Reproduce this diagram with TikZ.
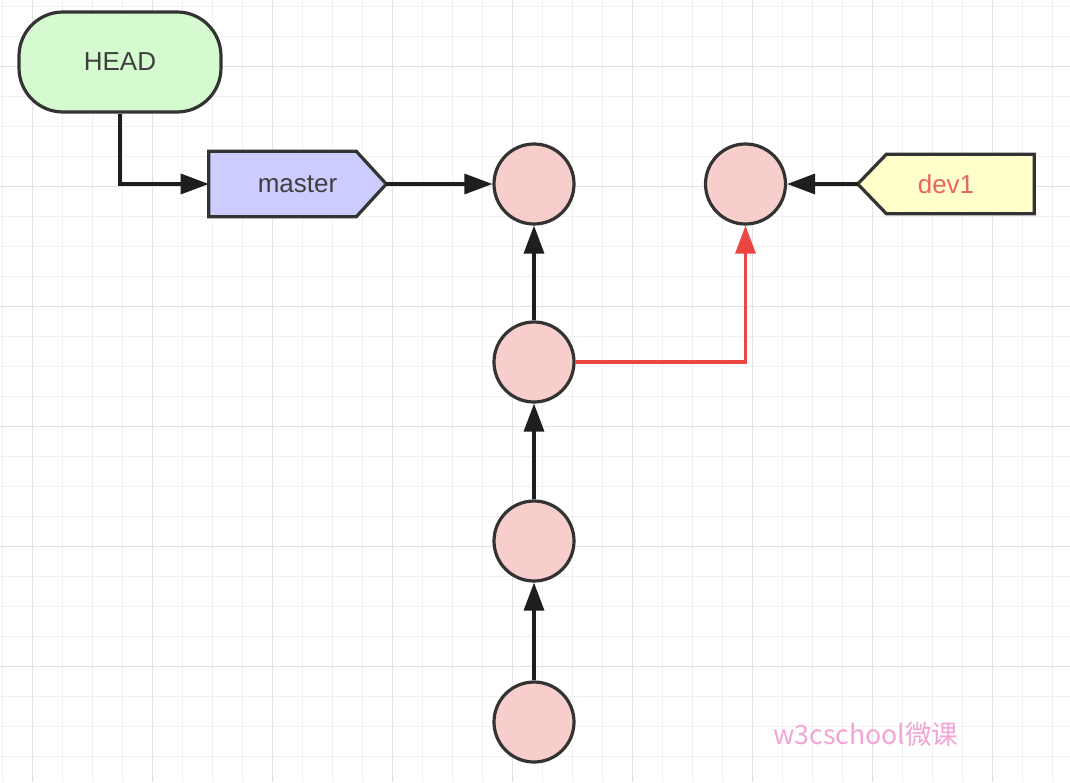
\documentclass[tikz,border=0pt]{standalone}
\usepackage{fontspec}
\setmainfont{Liberation Sans}
\newfontfamily\cjkfont{Noto Sans CJK SC}
\usetikzlibrary{arrows.meta}

\definecolor{ink}{HTML}{333333}
\definecolor{arrowink}{HTML}{1E1E1E}
\definecolor{textgray}{HTML}{3F3F3F}
\definecolor{headfill}{RGB}{214,250,208}
\definecolor{masterfill}{RGB}{204,204,255}
\definecolor{devfill}{RGB}{255,255,204}
\definecolor{commitfill}{RGB}{248,206,204}
\definecolor{branchred}{RGB}{234,70,66}
\definecolor{devtext}{RGB}{234,100,96}
\definecolor{gridminor}{RGB}{240,240,240}
\definecolor{gridmajor}{RGB}{226,226,226}
\definecolor{markpink}{RGB}{243,165,214}

\pgfdeclarelayer{bg}
\pgfsetlayers{bg,main}

\begin{document}
\begin{tikzpicture}[
  x=0.75pt, y=-0.75pt,
  labelfont/.style={font=\fontsize{19.5}{22}\selectfont, text=textgray},
  headbox/.style={draw=ink, line width=2.4pt, fill=headfill, rounded corners=33pt,
    minimum width=151.5pt, minimum height=75pt, inner sep=0pt, labelfont},
  tagbox/.style={inner sep=0pt, labelfont},
  tagline/.style={draw=ink, line width=2.4pt, line join=miter},
  commit/.style={circle, draw=ink, line width=2.4pt, fill=commitfill,
    minimum size=60pt, inner sep=0pt},
  link/.style={draw=arrowink, line width=2.5pt,
    -{Triangle[length=21pt,width=15pt]}},
  redlink/.style={draw=branchred, line width=2.3pt,
    -{Triangle[length=21pt,width=15pt]}},
]
% page and background grid
\useasboundingbox (0,0) rectangle (1070,782);
\begin{pgfonlayer}{bg}
  \fill[white] (0,0) rectangle (1070,782);
  \foreach \gx in {2.7,32.7,...,1062.7}
    \draw[gridminor, line width=1.1pt] (\gx,0) -- (\gx,782);
  \foreach \gy in {6.7,36.7,...,780}
    \draw[gridminor, line width=1.1pt] (0,\gy) -- (1070,\gy);
  \foreach \gx in {32.7,152.7,...,1062.7}
    \draw[gridmajor, line width=1.1pt] (\gx,0) -- (\gx,782);
  \foreach \gy in {66.7,186.7,...,780}
    \draw[gridmajor, line width=1.1pt] (0,\gy) -- (1070,\gy);
\end{pgfonlayer}

% pointer and branch labels
\node[headbox] (head) at (120,62) {HEAD};
\node[tagbox, minimum width=132.75pt, minimum height=48.75pt] (master) at (297.5,184) {master};
\node[tagbox, minimum width=132pt, minimum height=44.25pt, text=devtext] (dev) at (946,184) {dev1};

% arrow-shaped outlines behind the branch labels
\begin{pgfonlayer}{bg}
  \draw[tagline, fill=masterfill] (master.north west) -- ([xshift=-22.5pt]master.north east)
    -- (master.east) -- ([xshift=-22.5pt]master.south east) -- (master.south west) -- cycle;
  \draw[tagline, fill=devfill] (dev.north east) -- ([xshift=21.5pt]dev.north west)
    -- (dev.west) -- ([xshift=21.5pt]dev.south west) -- (dev.south east) -- cycle;
\end{pgfonlayer}

% commits
\node[commit] (c1) at (534,184) {};
\node[commit] (d1) at (745.5,184) {};
\node[commit] (c2) at (534,362) {};
\node[commit] (c3) at (534,541) {};
\node[commit] (c4) at (534,722) {};

% references
\draw[link] (head.south) |- (master.west);
\draw[link] (master.east) -- (c1.west);
\draw[link] (dev.west) -- (d1.east);

% history
\draw[link] (c2.north) -- (c1.south);
\draw[link] (c3.north) -- (c2.south);
\draw[link] (c4.north) -- (c3.south);
\draw[redlink] (c2.east) -| (d1.south);

% watermark
\node[font=\cjkfont\fontsize{20}{24}\selectfont, text=markpink] (mark) at (866,734) {w3cschool微课};
\end{tikzpicture}
\end{document}
